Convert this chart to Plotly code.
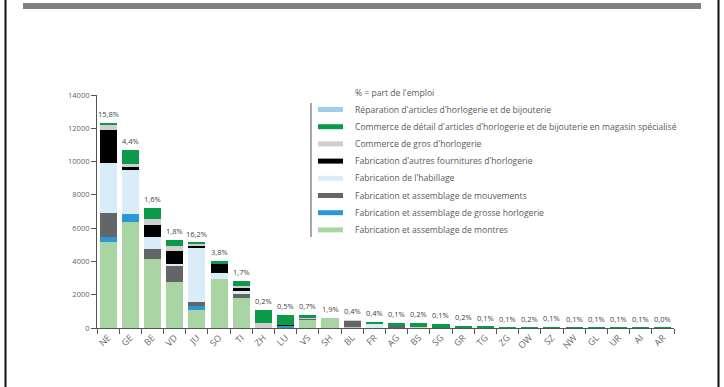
import plotly.graph_objects as go

# Cantons (x axis)
cantons = ["NE", "GE", "BE", "VD", "JU", "SO", "TI", "ZH", "LU", "VS", "SH", "BL", "FR",
           "AG", "BS", "SG", "GR", "TG", "ZG", "OW", "SZ", "NW", "GL", "UR", "AI", "AR"]

# Employment by branch (stack order, bottom to top)
montres      = [5170, 6370, 4170, 2760, 1060, 2950, 1830, 0, 0, 500, 600, 50, 0, 0, 0, 0, 0, 0, 0, 0, 0, 0, 0, 0, 0, 0]
grosse       = [300, 460, 0, 0, 260, 0, 0, 0, 150, 0, 0, 0, 0, 0, 0, 0, 0, 0, 0, 0, 0, 0, 0, 0, 0, 0]
mouvements   = [1420, 0, 600, 940, 260, 0, 240, 0, 0, 70, 0, 400, 0, 100, 0, 0, 0, 0, 0, 0, 0, 0, 0, 0, 0, 0]
habillage    = [3050, 2640, 700, 120, 3230, 340, 140, 0, 0, 0, 0, 0, 300, 0, 0, 0, 0, 0, 0, 0, 0, 0, 0, 0, 0, 0]
fournitures  = [1980, 200, 700, 820, 140, 560, 200, 0, 60, 0, 0, 0, 0, 0, 0, 0, 0, 0, 0, 0, 0, 0, 0, 0, 0, 0]
gros         = [250, 200, 400, 300, 100, 50, 100, 280, 0, 60, 0, 30, 0, 0, 50, 0, 0, 0, 0, 0, 0, 0, 0, 0, 0, 0]
detail       = [120, 800, 660, 340, 80, 100, 300, 800, 570, 180, 0, 0, 80, 200, 250, 250, 130, 80, 20, 10, 60, 10, 10, 10, 10, 5]
reparation   = [0] * 26

# Share of employment labels
parts = ["15,8%", "4,4%", "1,6%", "1,8%", "16,2%", "3,8%", "1,7%", "0,2%", "0,5%", "0,7%", "1,9%",
         "0,4%", "0,4%", "0,1%", "0,2%", "0,1%", "0,2%", "0,1%", "0,1%", "0,2%", "0,1%", "0,1%",
         "0,1%", "0,1%", "0,1%", "0,0%"]

series = [
    ("Fabrication et assemblage de montres", montres, "#a9d4a3"),
    ("Fabrication et assemblage de grosse horlogerie", grosse, "#2b98d6"),
    ("Fabrication et assemblage de mouvements", mouvements, "#646567"),
    ("Fabrication de l'habillage", habillage, "#d9edf9"),
    ("Fabrication d'autres fournitures d'horlogerie", fournitures, "#000000"),
    ("Commerce de gros d'horlogerie", gros, "#cfcfcf"),
    ("Commerce de détail d'articles d'horlogerie et de bijouterie en magasin spécialisé", detail, "#0b9a4a"),
    ("Réparation d'articles d'horlogerie et de bijouterie", reparation, "#a0cfeb"),
]

FONT = "Open Sans"
GREY_TXT = "#5a5a5a"

fig = go.Figure()
for name, vals, col in series:
    fig.add_trace(go.Bar(x=cantons, y=vals, name=name, marker=dict(color=col, line=dict(width=0)),
                         showlegend=False))

totals = [sum(s[1][i] for s in series) for i in range(len(cantons))]

annotations = []
for c, t, p in zip(cantons, totals, parts):
    annotations.append(dict(x=c, y=t, text=p, showarrow=False, yanchor="bottom", yshift=2,
                            font=dict(family=FONT, size=7.5, color="#444444")))

# Plot area geometry in pixels (for legend/frame placement in paper coords)
W, H = 724, 387
L, R, T, B = 97, 50, 95, 59
pw, ph = W - L - R, H - T - B


def px(xp):
    return (xp - L) / pw


def py(yp):
    return (H - B - yp) / ph


shapes = []
# legend: title, side rule, swatches and labels (top to bottom)
annotations.append(dict(xref="paper", yref="paper", x=px(353), y=py(93), xanchor="left", yanchor="middle",
                        text="% = part de l'emploi", showarrow=False,
                        font=dict(family=FONT, size=8.6, color=GREY_TXT)))
shapes.append(dict(type="line", xref="paper", yref="paper", x0=px(311), x1=px(311), y0=py(103), y1=py(237),
                   line=dict(color="#8a8a8a", width=1.5)))
row0, step = 109.5, 17.2
for k, (name, vals, col) in enumerate(reversed(series)):
    yc = row0 + k * step
    shapes.append(dict(type="rect", xref="paper", yref="paper", x0=px(318), x1=px(343),
                       y0=py(yc - 2.5), y1=py(yc + 2.5), fillcolor=col, line=dict(width=0)))
    annotations.append(dict(xref="paper", yref="paper", x=px(353), y=py(yc), xanchor="left", yanchor="middle",
                            text=name, showarrow=False, font=dict(family=FONT, size=8.6, color=GREY_TXT)))

# page frame
shapes.append(dict(type="line", xref="paper", yref="paper", x0=px(5.5), x1=px(5.5), y0=py(0), y1=py(387),
                   line=dict(color="#111111", width=2)))
shapes.append(dict(type="line", xref="paper", yref="paper", x0=px(718.5), x1=px(718.5), y0=py(0), y1=py(387),
                   line=dict(color="#111111", width=2)))
shapes.append(dict(type="rect", xref="paper", yref="paper", x0=px(23), x1=px(701), y0=py(3), y1=py(9),
                   fillcolor="#808080", line=dict(width=0)))

fig.update_layout(
    width=W, height=H, autosize=False,
    margin=dict(l=L, r=R, t=T, b=B, pad=0),
    barmode="stack", bargap=0.23,
    plot_bgcolor="white", paper_bgcolor="white",
    font=dict(family=FONT, size=8, color=GREY_TXT),
    annotations=annotations, shapes=shapes,
    xaxis=dict(type="category", range=[-0.5, 25.5], tickson="boundaries", ticks="outside", ticklen=5,
               tickcolor="#555555", showline=True, linecolor="#555555", linewidth=1, showgrid=False,
               tickangle=-45, tickfont=dict(family=FONT, size=9, color="#666666"), fixedrange=True),
    yaxis=dict(range=[0, 14000], tickvals=[0, 2000, 4000, 6000, 8000, 10000, 12000, 14000],
               ticktext=["0", "2000", "4000", "6000", "8000", "10000", "12000", "14000"],
               ticks="outside", ticklen=5, tickcolor="#555555", showline=True, linecolor="#555555",
               linewidth=1, showgrid=False, zeroline=False,
               tickfont=dict(family=FONT, size=7.5, color="#666666"), fixedrange=True),
)

fig.write_html("out.html")
